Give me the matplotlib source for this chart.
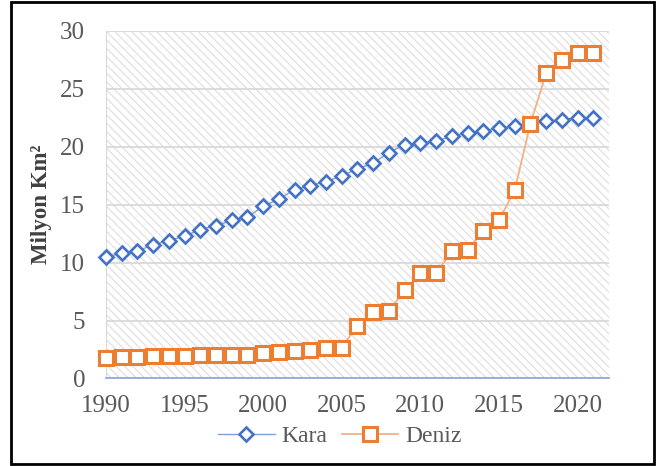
import numpy as np
import matplotlib
matplotlib.use("Agg")
import matplotlib.pyplot as plt
from matplotlib.patches import Rectangle

# data (million km2)
years = list(range(1990, 2022))
kara = [10.5, 10.8, 11.0, 11.55, 11.9, 12.3, 12.85, 13.2, 13.65, 13.95,
        14.85, 15.5, 16.3, 16.65, 17.0, 17.5, 18.1, 18.6, 19.5, 20.2,
        20.3, 20.5, 20.9, 21.2, 21.35, 21.6, 21.8, 22.0, 22.2, 22.35,
        22.5, 22.5]
deniz = [1.8, 1.83, 1.89, 1.92, 1.95, 1.97, 1.99, 2.0, 2.01, 2.03,
         2.18, 2.32, 2.4, 2.46, 2.6, 2.67, 4.57, 5.78, 5.84, 7.6,
         9.1, 9.1, 11.0, 11.1, 12.7, 13.65, 16.25, 22.0, 26.35, 27.5,
         28.1, 28.1]
xticks = [1990, 1995, 2000, 2005, 2010, 2015, 2020]
yticks = [0, 5, 10, 15, 20, 25, 30]

plt.rcParams['font.family'] = ['Liberation Serif', 'DejaVu Serif']
plt.rcParams['hatch.linewidth'] = 0.8
grey = '#595959'

fig = plt.figure(figsize=(6.6, 4.66), dpi=100)
ax = fig.add_axes([0.1606, 0.1878, 0.7621, 0.7457])

# hatched plot area
ax.set_facecolor('white')
ax.add_patch(Rectangle((0, 0), 1, 1, transform=ax.transAxes, facecolor='white',
                       edgecolor='#dedede', hatch='\\\\\\\\', lw=0, zorder=0))

ax.plot(years, kara, color='#7f9fd9', lw=1.0, marker='D', ms=7,
        mfc='white', mec='#4472C4', mew=1.9, label='Kara', zorder=3, clip_on=False)
ax.plot(years, deniz, color='#F4B183', lw=1.3, marker='s', ms=10.5,
        mfc='white', mec='#ED7D31', mew=2.2, label='Deniz', zorder=4, clip_on=False)

ax.set_xlim(1990, 2022)
ax.set_ylim(0, 30)
ax.set_xticks(xticks)
ax.set_yticks(yticks)
ax.tick_params(length=0, labelsize=18, colors=grey)
ax.tick_params(axis='x', pad=12)
ax.tick_params(axis='y', pad=15)
ax.grid(axis='y', color='#d9d9d9', lw=1.3)
ax.set_axisbelow(True)
for s in ['top', 'right']:
    ax.spines[s].set_visible(False)
ax.spines['left'].set_color('#d9d9d9')
ax.spines['bottom'].set_color('#8faadc')
ax.spines['bottom'].set_linewidth(1.3)

ax.set_ylabel('Milyon Km²', fontsize=16.5, fontweight='bold', color='#404040', labelpad=6)

ax.legend(loc='upper center', bbox_to_anchor=(0.465, -0.075), ncol=2, frameon=False,
          fontsize=17, labelcolor=grey, handlelength=2.4, columnspacing=0.6,
          handletextpad=0.3)

# outer black frame
fig.patches.append(Rectangle((11 / 660, 2 / 466), 643 / 660, 462 / 466,
                             transform=fig.transFigure, fill=False,
                             edgecolor='black', lw=2))

fig.savefig('out.png', dpi=100)
